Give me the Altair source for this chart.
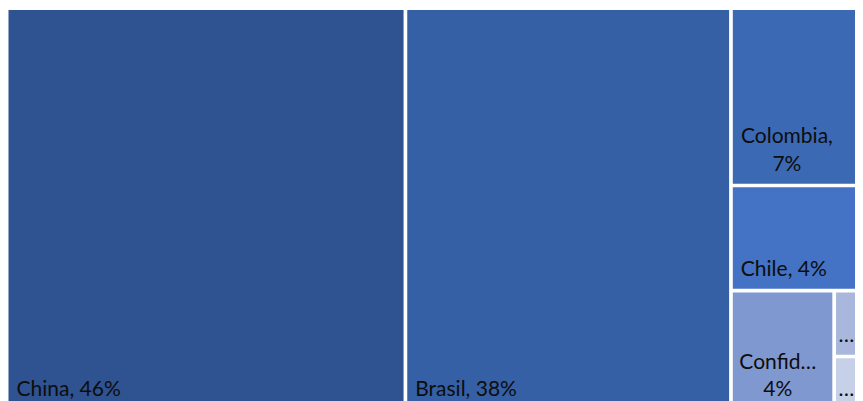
import altair as alt
import pandas as pd

# ---- data ----
categories = ["China", "Brasil", "Colombia", "Chile", "Confidencial", "Otros 1", "Otros 2"]
values = [46.3, 37.8, 7.0, 4.15, 3.58, 0.64, 0.53]
colors = ["#2F5290", "#3560A5", "#3C69B4", "#4472C4", "#8098D0", "#A8B7DB", "#C6D0E9"]

# ---- geometry (visible window and full treemap extent, in px) ----
VIEW_W, VIEW_H = 847, 393
TM_X, TM_Y, TM_W, TM_H = -1.35, 0.15, 861.25, 402.85
GAP = 3.7
PAD_X, PAD_BOTTOM, LINE_H = 8, 13, 27.5
EST_EM = 22.5      # Calibri-like size used to estimate text widths
FONT, FONT_SIZE = "Lato", 21


def squarify(vals, x, y, w, h):
    total = sum(vals)
    scale = w * h / total
    areas = [v * scale for v in vals]
    rects = []
    i = 0

    def worst(row, short):
        s = sum(row)
        side = s / short
        return max(max(side / (a / side), (a / side) / side) for a in row)

    while i < len(areas):
        short = min(w, h)
        row = [areas[i]]
        j = i + 1
        while j < len(areas) and worst(row + [areas[j]], short) <= worst(row, short):
            row.append(areas[j])
            j += 1
        s = sum(row)
        if w >= h:
            cw = s / h
            yy = y
            for a in row:
                rh = a / cw
                rects.append((x, yy, cw, rh))
                yy += rh
            x += cw
            w -= cw
        else:
            rh = s / w
            xx = x
            for a in row:
                rw = a / rh
                rects.append((xx, y, rw, rh))
                xx += rw
            y += rh
            h -= rh
        i = j
    return rects


CW = {" ": .226, ",": .250, "%": .715, "…": .64, "C": .535, "B": .544, "h": .525,
      "i": .229, "n": .525, "a": .479, "r": .349, "s": .397, "l": .229, "o": .527,
      "m": .799, "b": .525, "e": .498, "f": .305, "d": .525, "c": .423, "t": .335}


def tw(s):
    return sum(CW.get(c, .507) for c in s) * EST_EM


def make_lines(name, pct, avail):
    p = f"{pct}%"
    full = f"{name}, {p}"
    if tw(full) <= avail:
        return [full]
    if tw(name + ",") <= avail:
        return [name + ",", p]
    for k in range(len(name) - 1, 0, -1):
        t = name[:k] + "…"
        if tw(t) <= avail:
            return [t, p]
    return ["…"]


total = sum(values)
rects = squarify(values, TM_X, TM_Y, TM_W, TM_H)

cells, labels = [], []
for cat, v, (x, y, w, h) in zip(categories, values, rects):
    fx0, fy0 = x + GAP / 2, y + GAP / 2
    fx1, fy1 = x + w - GAP / 2, y + h - GAP / 2
    cells.append(dict(cat=cat, x=fx0, x2=fx1, y=fy0, y2=fy1))
    pct = round(v / total * 100)
    lines = make_lines(cat, pct, (fx1 - fx0) - 2 * PAD_X)
    n = len(lines)
    block = max(tw(t) for t in lines)
    # keep the label inside the visible window
    left = min(fx0 + PAD_X, VIEW_W - block - 2)
    for k, t in enumerate(lines):
        labels.append(dict(
            text=t,
            multi=n > 1,
            xl=left,
            xc=left + block / 2,
            y=fy1 - PAD_BOTTOM - (n - 1 - k) * LINE_H,
        ))

cells = pd.DataFrame(cells)
labels = pd.DataFrame(labels)

xs = alt.Scale(domain=[0, VIEW_W], nice=False, zero=False)
ys = alt.Scale(domain=[0, VIEW_H], nice=False, zero=False, reverse=True)

rect = alt.Chart(cells).mark_rect(clip=True).encode(
    x=alt.X("x:Q", scale=xs, axis=None),
    x2="x2:Q",
    y=alt.Y("y:Q", scale=ys, axis=None),
    y2="y2:Q",
    color=alt.Color("cat:N", scale=alt.Scale(domain=categories, range=colors), legend=None),
)

txt_left = alt.Chart(labels).transform_filter("!datum.multi").mark_text(
    align="left", baseline="alphabetic", font=FONT, fontSize=FONT_SIZE,
    color="#0d0d0d", clip=True,
).encode(
    x=alt.X("xl:Q", scale=xs, axis=None),
    y=alt.Y("y:Q", scale=ys, axis=None),
    text="text:N",
)

txt_center = alt.Chart(labels).transform_filter("datum.multi").mark_text(
    align="center", baseline="alphabetic", font=FONT, fontSize=FONT_SIZE,
    color="#0d0d0d", clip=True,
).encode(
    x=alt.X("xc:Q", scale=xs, axis=None),
    y=alt.Y("y:Q", scale=ys, axis=None),
    text="text:N",
)

chart = alt.layer(rect, txt_left, txt_center).properties(
    width=VIEW_W, height=VIEW_H, padding=0,
    autosize=alt.AutoSizeParams(type="none"),
    background="white",
).configure_view(strokeWidth=0)

chart.save("out.html", embed_options={"renderer": "svg", "actions": False})
